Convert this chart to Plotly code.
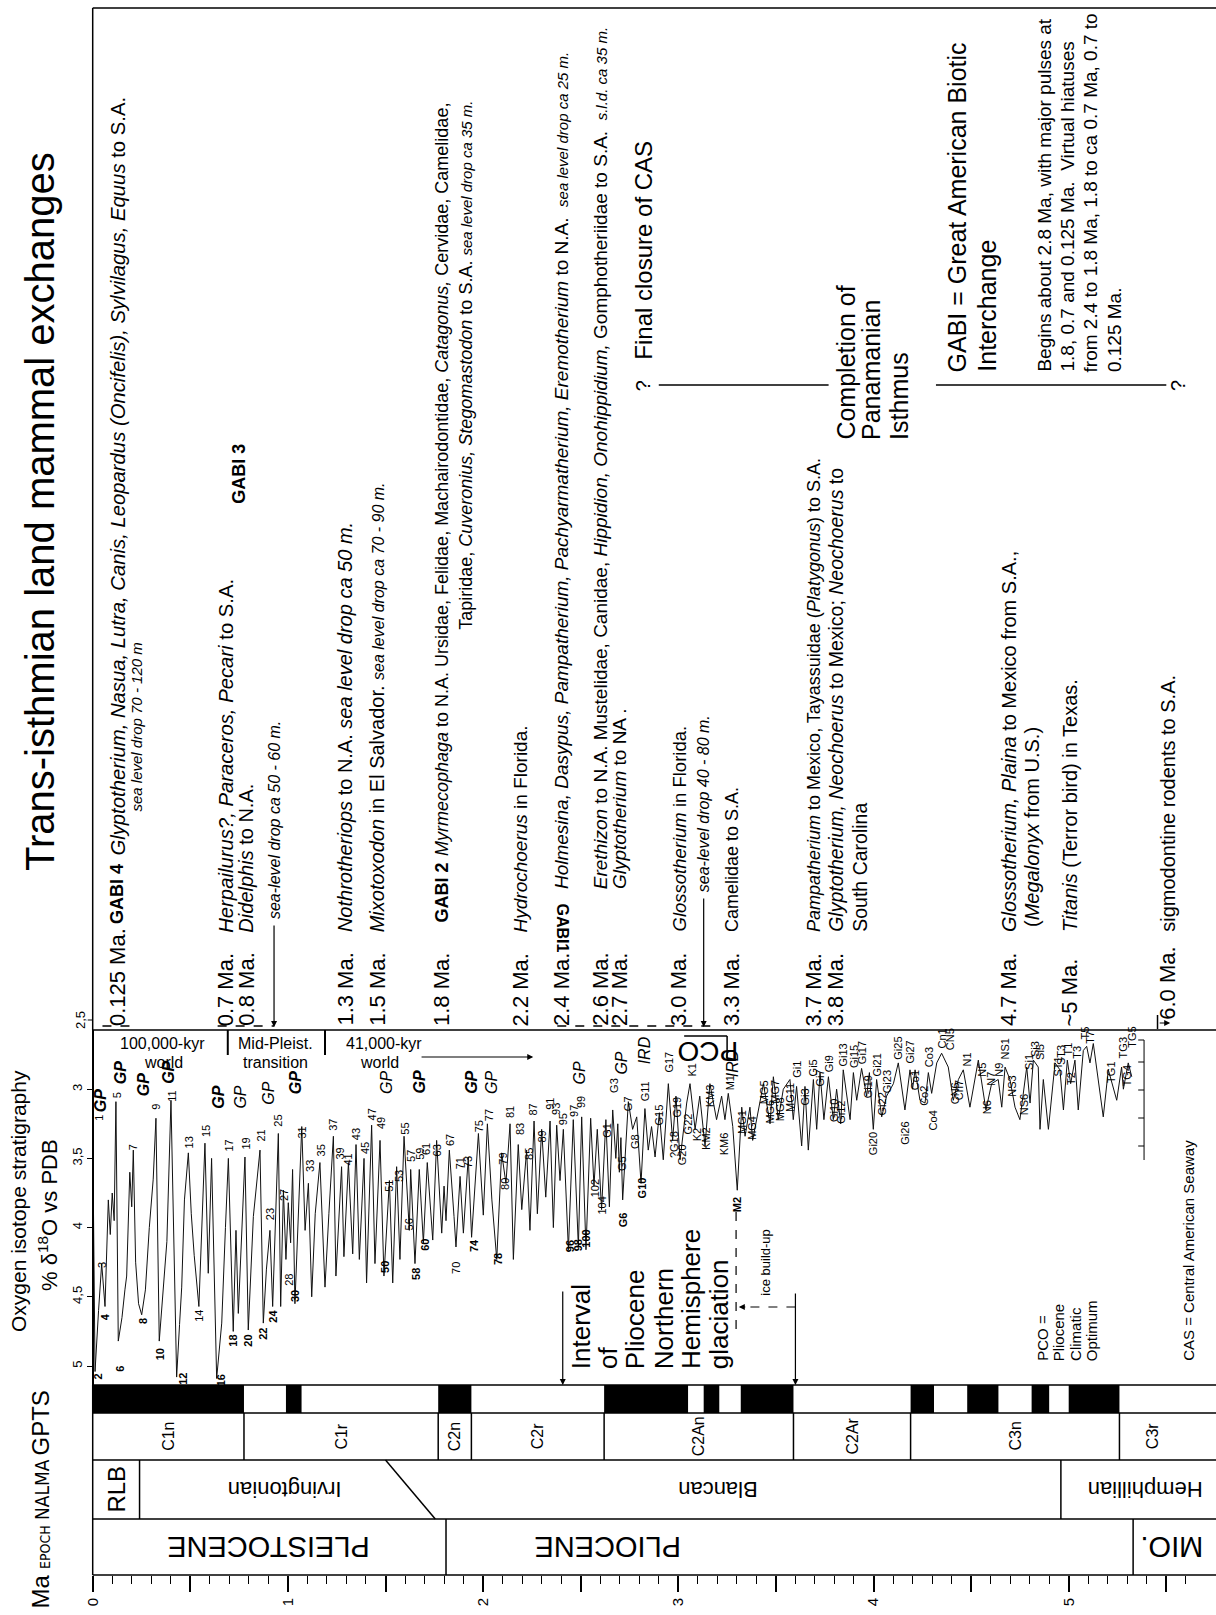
import plotly.graph_objects as go

W, H = 1216, 1615
X0, PXMA = 92.7, 195.2          # pixel of 0 Ma and pixels per Ma (layout calibration)
XMIN, XMAX = -X0 / PXMA, (W - X0) / PXMA


def P(ypx):
    return 1 - ypx / H


def MA(xpx):
    return (xpx - X0) / PXMA


FONT = "Liberation Sans, Arial, Helvetica, sans-serif"
NARROW = "Liberation Sans Narrow, Arial Narrow, DejaVu Sans Condensed, Liberation Sans, sans-serif"

# ---------------- DATA ----------------
# benthic oxygen isotope record (age Ma, d18O permil)
pleist_age = [0.000, 0.012, 0.030, 0.046, 0.063, 0.072, 0.080, 0.090, 0.100, 0.110,
              0.119, 0.131, 0.150, 0.165, 0.174, 0.190, 0.200, 0.208, 0.220, 0.235,
              0.251, 0.270, 0.290, 0.310, 0.324, 0.341, 0.360, 0.380, 0.401, 0.430,
              0.445, 0.456, 0.470, 0.490, 0.505, 0.520, 0.544, 0.560, 0.575, 0.592,
              0.609, 0.635, 0.661, 0.680, 0.695, 0.720, 0.734, 0.746, 0.780, 0.797]
pleist_d18o = [3.29, 5.04, 4.60, 4.26, 4.57, 4.15, 3.80, 4.05, 3.75, 3.95,
               3.09, 4.82, 4.65, 4.45, 4.35, 3.60, 3.85, 3.44, 4.25, 4.55,
               4.63, 4.45, 4.00, 3.65, 3.21, 4.82, 4.50, 4.10, 3.08, 5.08,
               4.70, 4.43, 3.80, 3.46, 3.90, 4.20, 4.57, 3.90, 3.39, 4.33,
               3.50, 5.09, 4.69, 4.00, 3.50, 4.75, 4.02, 4.62, 3.49, 4.74]

mpt_age = [0.810, 0.823, 0.857, 0.874, 0.890, 0.908, 0.922, 0.951, 0.963, 0.977,
           0.990, 1.002, 1.014, 1.024, 1.036, 1.071, 1.088, 1.105, 1.122, 1.140,
           1.164, 1.190, 1.210, 1.233, 1.246, 1.275, 1.287, 1.310, 1.332, 1.349,
           1.366, 1.390, 1.403, 1.429, 1.446, 1.472, 1.492, 1.520, 1.537, 1.557,
           1.574, 1.595, 1.622, 1.629, 1.651, 1.673, 1.694, 1.714, 1.742, 1.762,
           1.788, 1.800, 1.810]
mpt_d18o = [4.30, 3.92, 3.44, 4.69, 4.30, 4.02, 4.57, 3.32, 4.57, 3.73,
            4.23, 3.82, 4.11, 3.58, 4.55, 3.27, 4.02, 3.68, 4.50, 3.90,
            3.53, 4.43, 3.90, 3.34, 4.35, 3.56, 4.21, 3.53, 4.19, 3.40,
            4.23, 3.50, 4.40, 3.26, 4.26, 3.37, 4.35, 3.66, 4.40, 3.56,
            4.23, 3.34, 4.02, 3.58, 4.26, 3.58, 4.11, 3.53, 4.09, 3.37,
            4.04, 3.70, 3.95]

lplio_age = [1.827, 1.851, 1.861, 1.882, 1.899, 1.924, 1.941, 1.976, 2.001, 2.022,
             2.045, 2.070, 2.095, 2.117, 2.138, 2.155, 2.180, 2.198, 2.223, 2.240,
             2.261, 2.278, 2.300, 2.321, 2.343, 2.360, 2.377, 2.394, 2.411, 2.437,
             2.462, 2.488, 2.505, 2.527, 2.551, 2.568, 2.585, 2.607, 2.629, 2.647,
             2.664, 2.680, 2.690, 2.698, 2.706, 2.715, 2.744, 2.766, 2.787, 2.809,
             2.829, 2.846, 2.863, 2.881, 2.903, 2.923, 2.949, 2.971, 2.988, 3.009,
             3.029, 3.043, 3.060, 3.086, 3.110, 3.137, 3.162, 3.196, 3.222, 3.239,
             3.256, 3.279, 3.302]
lplio_d18o = [3.44, 3.92, 4.14, 3.63, 4.04, 3.49, 4.07, 3.32, 3.91, 3.25,
              3.80, 4.23, 3.46, 3.68, 3.25, 4.23, 3.40, 3.87, 3.44, 4.02,
              3.23, 3.90, 3.29, 3.78, 3.23, 4.00, 3.26, 3.66, 3.29, 4.16,
              3.22, 4.14, 3.20, 4.16, 3.21, 3.70, 3.29, 3.87, 3.22, 3.85,
              3.15, 3.50, 3.25, 3.60, 3.35, 3.80, 3.09, 3.29, 3.20, 3.68,
              3.14, 3.44, 3.27, 3.49, 3.17, 3.51, 2.96, 3.37, 3.05, 3.51,
              3.29, 3.10, 2.96, 3.29, 3.05, 3.41, 2.96, 3.22, 3.05, 3.22,
              3.03, 3.27, 3.73]

eplio_age = [3.325, 3.342, 3.367, 3.381, 3.419, 3.436, 3.470, 3.487, 3.512, 3.538,
             3.572, 3.589, 3.606, 3.632, 3.649, 3.666, 3.692, 3.709, 3.726, 3.746,
             3.769, 3.794, 3.811, 3.832, 3.845, 3.880, 3.897, 3.914, 3.939, 3.965,
             3.979, 3.999, 4.016, 4.042, 4.067, 4.102, 4.127, 4.161, 4.187, 4.200,
             4.213, 4.238, 4.264, 4.281, 4.298, 4.324, 4.349, 4.383, 4.409, 4.435,
             4.460, 4.494, 4.537, 4.576, 4.605, 4.639, 4.657, 4.674, 4.699, 4.725,
             4.750, 4.785, 4.802, 4.819, 4.844, 4.853, 4.870, 4.896, 4.930, 4.955,
             4.973, 4.993, 5.010, 5.032, 5.049, 5.075, 5.092, 5.109, 5.126, 5.177,
             5.203, 5.246, 5.271, 5.280, 5.305, 5.323]
eplio_d18o = [3.13, 3.34, 3.13, 3.37, 3.08, 2.96, 3.25, 2.91, 3.22, 3.00,
              2.93, 3.22, 2.98, 3.41, 2.98, 3.44, 2.93, 3.29, 2.88, 3.22,
              2.91, 3.22, 3.00, 3.25, 2.86, 3.22, 2.88, 3.08, 2.85, 3.05,
              2.88, 3.29, 2.93, 3.20, 3.05, 2.96, 2.81, 3.15, 2.86, 3.00,
              2.86, 3.08, 3.10, 2.88, 3.03, 2.81, 2.74, 2.84, 3.08, 2.93,
              2.86, 3.13, 2.79, 3.15, 2.96, 2.93, 3.13, 2.84, 2.93, 3.13,
              3.22, 2.84, 3.10, 2.79, 2.84, 3.29, 2.93, 3.29, 2.81, 2.86,
              3.15, 2.79, 2.96, 2.79, 3.15, 2.72, 2.69, 2.81, 2.67, 3.20,
              2.86, 3.08, 2.84, 3.00, 2.81, 2.91]

# marine isotope stage labels: name, age, d18O anchor, side (u above / d below)
mis_text = ["1", "2", "3", "4", "5", "6", "7", "8", "9", "10", "11", "12", "13", "14", "15", "16",
            "17", "18", "19", "20", "21", "22", "23", "24", "25", "27", "28", "30", "31", "33", "35",
            "37", "39", "41", "43", "45", "47", "49", "50", "51", "53", "55", "56", "57", "58", "59",
            "60", "61", "63", "67", "70", "71", "73", "74", "75", "77", "78", "79", "80", "81", "83",
            "85", "87", "89", "91", "93", "95", "96", "97", "98", "99", "100", "102", "104",
            "G1", "G3", "G5", "G6", "G7", "G8", "G10", "G11", "G15", "G17", "?G18", "G19", "G20",
            "G22", "K1", "K2", "KM2", "KM3", "KM6", "M1", "M2", "MG1", "MG4", "MG5", "MG6", "MG7",
            "MG8", "MG11", "Gi1", "Gi3", "Gi5", "Gi7", "Gi9", "Gi10", "Gi12", "Gi13", "Gi15", "Gi17",
            "Gi19", "Gi20", "Gi21", "Gi22", "Gi23", "Gi25", "Gi26", "Gi27", "Co1", "Co2", "Co3",
            "Co4", "Cn1", "CN5", "CN6", "Cn7", "N1", "N5", "N6", "N7", "N9", "NS1", "NS3", "NS6",
            "Si1", "Si3", "Si5", "ST1", "ST3", "T1", "T2", "T3", "T5", "T7", "TG1", "TG3", "TG4", "TG5"]
mis_age = [0.032, 0.029, 0.045, 0.063, 0.123, 0.143, 0.208, 0.259, 0.324, 0.345, 0.405, 0.461,
           0.498, 0.546, 0.584, 0.656, 0.700, 0.720, 0.784, 0.797, 0.862, 0.874, 0.912, 0.922,
           0.951, 0.980, 1.002, 1.036, 1.071, 1.113, 1.168, 1.233, 1.267, 1.310, 1.349, 1.395,
           1.429, 1.477, 1.497, 1.520, 1.566, 1.600, 1.622, 1.634, 1.656, 1.673, 1.702, 1.711,
           1.762, 1.827, 1.864, 1.882, 1.924, 1.950, 1.976, 2.027, 2.073, 2.100, 2.112, 2.138,
           2.186, 2.232, 2.257, 2.300, 2.343, 2.377, 2.411, 2.445, 2.462, 2.488, 2.505, 2.530,
           2.573, 2.607, 2.633, 2.667, 2.715, 2.718, 2.744, 2.778, 2.812, 2.834, 2.903, 2.951,
           2.975, 2.992, 3.017, 3.051, 3.068, 3.094, 3.145, 3.162, 3.231, 3.262, 3.302, 3.325,
           3.381, 3.436, 3.470, 3.495, 3.518, 3.572, 3.610, 3.649, 3.692, 3.726, 3.769, 3.794,
           3.832, 3.845, 3.897, 3.939, 3.973, 3.999, 4.020, 4.042, 4.067, 4.127, 4.161, 4.187,
           4.213, 4.255, 4.281, 4.306, 4.349, 4.392, 4.418, 4.435, 4.477, 4.554, 4.583, 4.605,
           4.639, 4.674, 4.708, 4.768, 4.793, 4.827, 4.853, 4.947, 4.964, 4.998, 5.015, 5.041,
           5.083, 5.109, 5.220, 5.280, 5.297, 5.323]
mis_val = [3.25, 5.03, 4.31, 4.60, 3.09, 4.98, 3.46, 4.63, 3.17, 4.85, 3.11, 5.03, 3.45, 4.57,
           3.37, 5.04, 3.47, 4.75, 3.46, 4.75, 3.40, 4.70, 3.97, 4.57, 3.29, 3.70, 4.31, 4.56,
           3.25, 3.62, 3.51, 3.32, 3.53, 3.57, 3.39, 3.49, 3.25, 3.31, 4.35, 3.63, 3.56, 3.35,
           4.04, 3.55, 4.27, 3.53, 4.19, 3.50, 3.38, 3.43, 4.23, 3.60, 3.46, 4.20, 3.33, 3.25,
           4.29, 3.44, 3.75, 3.23, 3.35, 3.40, 3.21, 3.28, 3.17, 3.21, 3.28, 4.20, 3.22, 4.19,
           3.16, 4.17, 3.63, 3.93, 3.22, 3.05, 3.46, 3.87, 3.03, 3.45, 3.81, 3.11, 3.09, 2.90,
           3.52, 3.03, 3.57, 3.35, 2.93, 3.26, 3.46, 2.94, 3.29, 3.03, 3.76, 3.13, 3.39, 2.91,
           3.27, 2.91, 3.25, 2.93, 2.94, 2.97, 2.93, 2.84, 2.90, 3.26, 3.27, 2.86, 2.87, 2.84,
           2.88, 3.29, 2.93, 3.21, 3.05, 2.81, 3.21, 2.84, 2.84, 3.14, 2.86, 3.13, 2.73, 2.74,
           3.13, 2.91, 2.86, 2.79, 3.20, 3.00, 2.93, 2.81, 2.88, 3.21, 2.88, 2.79, 2.81, 2.74,
           2.85, 2.78, 2.99, 2.80, 2.66, 2.69, 2.78, 2.80, 3.00, 2.72]
mis_side = list("udududududududud" "udududududduduuu" "uuuuuuudduuuduuu"
                "dudud" "uuuuduuududu") + \
    ["u", "u", "u", "u", "u", "u", "u", "d", "u", "d", "u", "d", "d", "d",
     "u", "u", "u", "d", "u", "u", "d", "u", "u", "u", "d", "u", "d", "d", "u", "d",
     "d", "u", "d", "u", "d", "u", "d", "u", "d", "u", "d", "u", "u", "u", "u", "u",
     "u", "d", "d", "u", "u", "u", "u", "d", "u", "d", "u", "u", "d", "u", "u", "u",
     "d", "u", "d", "u", "u", "u", "u", "d", "u", "u", "u", "u", "d", "u", "u", "u",
     "u", "u", "u", "d", "u", "u", "u", "d", "u"]
mis_bold = {"2", "4", "6", "8", "10", "12", "16", "18", "20", "22", "24", "30", "50", "58",
            "60", "74", "78", "96", "98", "100", "G6", "G10", "M2"}

# glacial pluvial (GP) and ice rafted debris (IRD) markers: age, d18O position, bold
gp_age = [0.037, 0.143, 0.259, 0.387, 0.643, 0.755, 0.900, 1.036, 1.506, 1.673, 1.941, 2.044,
          2.496, 2.710]
gp_val = [3.08, 2.88, 2.97, 2.88, 3.06, 3.06, 3.03, 2.95, 2.95, 2.95, 2.95, 2.95, 2.88, 2.81]
gp_bold = [True, True, True, True, True, False, False, True, False, True, True, False,
           False, False]
ird_age = [2.829, 3.282]
ird_val = [2.72, 2.81]

iso_ticks = [3, 3.5, 4, 4.5, 5]
iso_ticktext = ["3", "3,5", "4", "4,5", "5"]
iso_top_tick, iso_top_label = 2.5, "2,5"

# geomagnetic polarity time scale: normal-polarity intervals (Ma)
normal_start = [0.00, 0.99, 1.77, 2.62, 3.13, 3.32, 4.19, 4.48, 4.81, 5.00]
normal_end = [0.775, 1.07, 1.94, 3.05, 3.21, 3.59, 4.31, 4.64, 4.90, 5.26]
chron_names = ["C1n", "C1r", "C2n", "C2r", "C2An", "C2Ar", "C3n", "C3r"]
chron_bounds = [0.0, 0.775, 1.77, 1.94, 2.62, 3.59, 4.19, 5.26, 5.6]

nalma_names = ["Irvingtonian", "Blancan", "Hemphillian"]
nalma_centers = [0.984, 3.20, 5.39]
rlb_end = 0.24
irv_end_top, irv_end_bottom = 1.50, 1.755
blancan_end = 4.96

epoch_names = ["PLEISTOCENE", "PLIOCENE", "MIO."]
epoch_centers = [0.90, 2.64, 5.53]
epoch_bounds = [1.81, 5.33]

ma_major = [0, 0.5, 1, 1.5, 2, 2.5, 3, 3.5, 4, 4.5, 5, 5.5]
ma_labels = ["0", "", "1", "", "2", "", "3", "", "4", "", "5", ""]
ma_minor = [i / 10 for i in range(0, 57) if i % 5 != 0]

# ---------------- LAYOUT HELPERS ----------------
Y_TOP, Y_SEP, Y_GPTS, Y_CHRON, Y_NALMA, Y_EPOCH, Y_AXIS = 8, 1030, 1385, 1413, 1460, 1519, 1575
Y_CAS = 385          # the "? ---- ?" isthmus line
Y_MA = 1027          # bottom of the "x.x Ma." labels
ISO_PX3, ISO_PX5 = 1089.2, 1366.0   # pixel rows of the 3 and 5 permil ticks
ISO_PPU = (ISO_PX5 - ISO_PX3) / 2
iso_range = [5 + (Y_GPTS - ISO_PX5) / ISO_PPU, 3 - (ISO_PX3 - Y_SEP) / ISO_PPU]
shapes, annos = [], []


def line(x0, y0, x1, y1, w=1.5, dash="solid", color="black"):
    shapes.append(dict(type="line", xref="x", yref="paper", x0=x0, x1=x1, y0=P(y0), y1=P(y1),
                       line=dict(color=color, width=w, dash=dash)))


def rect(x0, x1, y0, y1, fill="black"):
    shapes.append(dict(type="rect", xref="x", yref="paper", x0=x0, x1=x1, y0=P(y0), y1=P(y1),
                       fillcolor=fill, line=dict(width=0)))


def txt(x, y, s, size, angle=-90, xa="center", ya="bottom", fam=FONT, yref="paper", align="left",
        yshift=0):
    annos.append(dict(x=x, y=P(y) if yref == "paper" else y, xref="x", yref=yref, text=s,
                      showarrow=False, textangle=angle, xanchor=xa, yanchor=ya, align=align,
                      yshift=yshift, borderpad=0,
                      font=dict(family=fam, size=size, color="black")))


def arrow(x, yhead, ytail=None, dx=0, w=1.2):
    annos.append(dict(x=x, y=P(yhead), xref="x", yref="paper", text="", showarrow=True,
                      axref="pixel", ayref="pixel", ax=dx, ay=0 if ytail is None else ytail - yhead,
                      arrowhead=2, arrowsize=1, arrowwidth=w, arrowcolor="black",
                      standoff=0, startstandoff=0))


def small(s, size=15):
    return "<span style='font-size:%dpx'><i>%s</i></span>" % (size, s)


# ---------------- FRAMES ----------------
line(0, Y_TOP, XMAX, Y_TOP)
line(0, Y_SEP, XMAX, Y_SEP)
line(0, Y_TOP, 0, Y_SEP)
for yy in (Y_GPTS, Y_CHRON, Y_NALMA, Y_EPOCH, Y_AXIS):
    line(0, yy, XMAX, yy)
line(0, Y_GPTS, 0, Y_AXIS)

# GPTS bar
for s, e in zip(normal_start, normal_end):
    rect(s, e, Y_GPTS, Y_CHRON)
for b in chron_bounds[1:-1]:
    line(b, Y_CHRON, b, Y_NALMA)
for i, name in enumerate(chron_names):
    txt((chron_bounds[i] + chron_bounds[i + 1]) / 2, (Y_CHRON + Y_NALMA) / 2, name, 16, ya="middle")

# NALMA
line(rlb_end, Y_NALMA, rlb_end, Y_EPOCH)
line(irv_end_top, Y_NALMA, irv_end_bottom, Y_EPOCH)
line(blancan_end, Y_NALMA, blancan_end, Y_EPOCH)
txt(rlb_end / 2, (Y_NALMA + Y_EPOCH) / 2, "RLB", 24, ya="middle")
for name, c in zip(nalma_names, nalma_centers):
    txt(c, (Y_NALMA + Y_EPOCH) / 2, name, 22, angle=180, ya="middle")

# Epochs
for b in epoch_bounds:
    line(b, Y_EPOCH, b, Y_AXIS)
for name, c in zip(epoch_names, epoch_centers):
    txt(c, (Y_EPOCH + Y_AXIS) / 2, name, 29, angle=180, ya="middle")

# left column titles (common baseline)
txt(MA(54), 1423, "GPTS", 24, ya="middle", xa="right")
txt(MA(54), 1490, "NALMA", 19, ya="middle", xa="right", fam=NARROW)
txt(MA(54), 1547, "EPOCH", 14, ya="middle", xa="right", fam=NARROW)
txt(MA(54), 1592, "Ma", 24, ya="middle", xa="right")

# ---------------- ISOTOPE PANEL TEXT ----------------
txt(MA(18), 1201, "Oxygen isotope stratigraphy", 21, ya="middle")
txt(MA(48), 1215, "% δ<sup>18</sup>O vs PDB", 22, ya="middle")
# top tick (2,5) sits at the upper edge of the panel
y25 = ISO_PX3 - (3 - iso_top_tick) * ISO_PPU
line(MA(X0 - 5), y25, 0, y25, w=1)
txt(MA(80), y25, iso_top_label, 13, ya="middle")

for t, a, v, sd in zip(mis_text, mis_age, mis_val, mis_side):
    s = "<b>%s</b>" % t if t in mis_bold else t
    txt(a, v, s, 11, ya="bottom" if sd == "u" else "top", yref="y",
        yshift=2 if sd == "u" else -2)
for a, v, b in zip(gp_age, gp_val, gp_bold):
    txt(a, v, "<b><i>GP</i></b>" if b else "<i>GP</i>", 16, ya="middle", yref="y")
for a, v in zip(ird_age, ird_val):
    txt(a, v, "<i>IRD</i>", 16, ya="middle", yref="y")

txt(0.36, 1043, "100,000-kyr", 16, angle=0, ya="middle")
txt(0.365, 1062, "world", 16, angle=0, ya="middle")
txt(0.934, 1043, "Mid-Pleist.", 16, angle=0, ya="middle")
txt(0.934, 1062, "transition", 16, angle=0, ya="middle")
txt(1.49, 1043, "41,000-kyr", 16, angle=0, ya="middle")
txt(1.47, 1062, "world", 16, angle=0, ya="middle")
line(0.692, Y_SEP, 0.692, 1055, w=2)
line(1.19, Y_SEP, 1.19, 1055, w=2)
arrow(2.257, 1057, dx=-(2.257 - 1.677) * PXMA)

txt(3.15, 1052, "PCO", 28, angle=180, ya="middle")
line(3.03, 1036, 3.25, 1036, w=1.5)
line(3.25, 1036, 3.25, 1058, w=1.5)

for name, a in zip(["Interval", "of", "Pliocene", "Northern", "Hemisphere", "glaciation"],
                   [2.50, 2.64, 2.78, 2.925, 3.065, 3.21]):
    txt(a, 1370, name, 26)
arrow(2.408, 1385, 1290)
arrow(3.60, 1385, 1292)
line(3.60, 1307, 3.34, 1307, w=1.2, dash="dash")
arrow(3.31, 1307, dx=8)
line(3.296, 1212, 3.296, 1332, w=1.2, dash="dash")
txt(3.445, 1297, "ice build-up", 13)

for name, a in zip(["PCO =", "Pliocene", "Climatic", "Optimum"], [4.862, 4.947, 5.032, 5.118]):
    txt(a, 1362, name, 15)
txt(5.613, 1362, "CAS = Central American Seaway", 15)

# small secondary axis at right end of the record
line(5.386, 1040, 5.386, 1160, w=1)
for ty in (1040, 1062, 1090, 1118, 1146):
    line(5.386 - 0.03, ty, 5.386, ty, w=1)

# ---------------- MAMMAL EXCHANGE PANEL ----------------
MAS, SM, GB = 22, 16, 18

txt(MA(40), 512, "Trans-isthmian land mammal exchanges", 40, ya="middle")

line(0.05, Y_MA - 1, 0.21, Y_MA - 1, w=1.5, dash="dash")
line(0.64, Y_MA - 1, 0.93, Y_MA - 1, w=1.5, dash="dash")
line(2.38, Y_MA - 1, 3.20, Y_MA - 1, w=1.5, dash="dash")

txt(0.125, Y_MA, "0.125 Ma.", MAS)
txt(0.125, 925, "<b>GABI 4</b>", GB)
txt(0.125, 857, "<i>Glyptotherium, Nasua, Lutra, Canis, Leopardus (Oncifelis), Sylvilagus, Equus</i> to S.A.", 20.3)
txt(0.222, 813, "<i>sea level drop 70 - 120 m</i>", 15)

txt(0.682, Y_MA, "0.7 Ma.", MAS)
txt(0.786, Y_MA, "0.8 Ma.", MAS)
txt(0.682, 934, "<i>Herpailurus?, Paraceros, Pecari</i> to S.A.", 20.3)
txt(0.786, 934, "<i>Didelphis</i> to N.A.", 20)
txt(0.929, 920, "<i>sea-level drop ca 50 - 60 m.</i>", SM)
arrow(0.929, Y_MA, 924)
txt(0.748, 505, "<b>GABI 3</b>", GB)

txt(1.293, Y_MA, "1.3 Ma.", MAS)
txt(1.293, 933, "<i>Nothrotheriops</i> to N.A. <i>sea level drop ca 50 m.</i>", 20)
txt(1.458, Y_MA, "1.5 Ma.", MAS)
txt(1.458, 933, "<i>Mixotoxodon</i> in El Salvador. " + small("sea level drop ca 70 - 90 m.", 16), 20)

txt(1.787, Y_MA, "1.8 Ma.", MAS)
txt(1.787, 924, "<b>GABI 2</b>", GB)
txt(1.787, 857, "<i>Myrmecophaga</i> to N.A. Ursidae, Felidae, Machairodontidae, <i>Catagonus,</i> Cervidae, Camelidae,", 18)
txt(1.909, 100, "Tapiridae, <i>Cuveronius, Stegomastodon</i> to S.A. " + small("sea level drop ca 35 m."), 18, ya="top")

txt(2.194, Y_MA, "2.2 Ma.", MAS)
txt(2.194, 933, "<i>Hydrochoerus</i> in Florida.", 19)

txt(2.402, Y_MA, "2.4 Ma.", MAS)
txt(2.402, 928, "<b>GABI1</b>", 16, angle=90, ya="middle")
txt(2.402, 890, "<i>Holmesina, Dasypus, Pampatherium, Pachyarmatherium, Eremotherium</i> to N.A.\u00a0\u00a0" + small("sea level drop ca 25 m."), 19)

txt(2.600, Y_MA, "2.6 Ma.", MAS)
txt(2.699, Y_MA, "2.7 Ma.", MAS)
txt(2.600, 890, "<i>Erethizon</i> to N.A. Mustelidae, Canidae, <i>Hippidion, Onohippidium,</i> Gomphotheriidae to S.A.\u00a0\u00a0" + small("s.l.d. ca 35 m."), 19)
txt(2.699, 890, "<i>Glyptotherium</i> to NA .", 19)

txt(3.001, Y_MA, "3.0 Ma.", MAS)
txt(3.001, 933, "<i>Glossotherium</i> in Florida.", 18.5)
txt(3.130, 893, "<i>sea-level drop 40 - 80 m.</i>", SM)
arrow(3.130, Y_MA, 897)

txt(3.273, Y_MA, "3.3 Ma.", MAS)
txt(3.273, 933, "Camelidae to S.A.", 18)

txt(3.695, Y_MA, "3.7 Ma.", MAS)
txt(3.807, Y_MA, "3.8 Ma.", MAS)
txt(3.695, 933, "<i>Pampatherium</i> to Mexico, Tayassuidae (<i>Platygonus</i>) to S.A.", 18)
txt(3.807, 933, "<i>Glyptotherium, Neochoerus</i> to Mexico; <i>Neochoerus</i> to", 19.5)
txt(3.927, 933, "South Carolina", 19.5)

txt(4.692, Y_MA, "4.7 Ma.", MAS)
txt(4.692, 933, "<i>Glossotherium, Plaina</i> to Mexico from S.A.,", 20)
txt(4.812, 928, "(<i>Megalonyx</i> from U.S.)", 20)

txt(5.004, Y_MA, "~5 Ma.", MAS)
txt(5.004, 933, "<i>Titanis</i> (Terror bird) in Texas.", 20)

txt(5.505, Y_MA - 6, "6.0 Ma.", MAS)
txt(5.505, 933, "sigmodontine rodents to S.A.", 20)
line(5.455, Y_MA - 12, 5.455, Y_MA + 2, w=1.5)
arrow(5.52, Y_MA - 4, dx=-12)

# isthmus closure / completion / GABI notes
txt(2.82, Y_CAS - 24, "Final closure of CAS", 24)
txt(2.82, Y_CAS + 1, "?", 20, ya="middle")
line(2.90, Y_CAS, 3.77, Y_CAS, w=1.5)
line(4.32, Y_CAS, 5.50, Y_CAS, w=1.5)
txt(5.56, Y_CAS + 1, "?", 20, ya="middle")
txt(3.857, Y_CAS + 56, "Completion of", 25)
txt(3.987, Y_CAS + 56, "Panamanian", 25)
txt(4.130, Y_CAS + 56, "Isthmus", 25)
txt(4.430, Y_CAS - 12, "GABI = Great American Biotic", 25)
txt(4.580, Y_CAS - 12, "Interchange", 25)
for s, a in zip(["Begins about 2.8 Ma, with major pulses at",
                 "1.8, 0.7 and 0.125 Ma.\u00a0\u00a0Virtual hiatuses",
                 "from 2.4 to 1.8 Ma, 1.8 to ca 0.7 Ma, 0.7 to",
                 "0.125 Ma."], [4.874, 4.994, 5.114, 5.235]):
    txt(a, Y_CAS - 12, s, 19)

# ---------------- FIGURE ----------------
iso_age = pleist_age + mpt_age + lplio_age + eplio_age
iso_d18o = pleist_d18o + mpt_d18o + lplio_d18o + eplio_d18o

fig = go.Figure(go.Scatter(x=iso_age, y=iso_d18o, mode="lines",
                           line=dict(color="#111111", width=1.0), hoverinfo="skip"))
fig.update_layout(
    width=W, height=H, margin=dict(l=0, r=0, t=0, b=0, pad=0, autoexpand=False),
    paper_bgcolor="white", plot_bgcolor="rgba(0,0,0,0)", showlegend=False,
    font=dict(family=FONT, color="black"),
    shapes=shapes, annotations=annos,
    xaxis=dict(domain=[0, 1], range=[XMIN, XMAX], anchor="free", position=P(Y_AXIS),
               automargin=False, showgrid=False, zeroline=False, showline=False,
               tickmode="array", tickvals=ma_major, ticktext=ma_labels, ticks="outside",
               ticklen=16, tickwidth=1.5, tickcolor="black", tickangle=-90,
               tickfont=dict(size=15, family=FONT),
               minor=dict(tickmode="array", tickvals=ma_minor, ticks="outside", ticklen=8,
                          tickwidth=1.2, tickcolor="black")),
    yaxis=dict(domain=[P(Y_GPTS), P(Y_SEP)], range=iso_range, anchor="free",
               position=X0 / W, automargin=False, showgrid=False, zeroline=False, showline=True,
               linecolor="black", linewidth=1.5, ticks="outside", ticklen=5,
               tickcolor="black", tickmode="array", tickvals=iso_ticks, ticktext=iso_ticktext,
               tickangle=-90, tickfont=dict(size=13, family=FONT)),
)
fig.write_html("out.html", config={"displayModeBar": False},
               post_script="document.body.style.margin='0px';document.body.style.overflow='hidden';")
